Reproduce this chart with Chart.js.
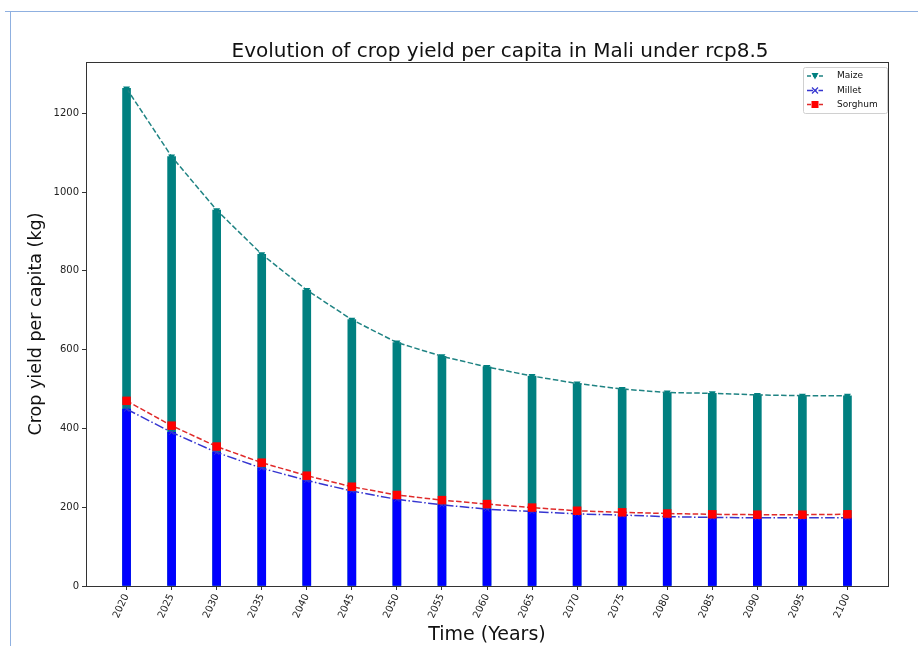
<!DOCTYPE html>
<html><head><meta charset="utf-8">
<script src="https://cdn.jsdelivr.net/npm/chart.js@4.4.1/dist/chart.umd.min.js"></script>
<style>
html,body{margin:0;padding:0;background:#fff;}
#wrap{position:relative;width:918px;height:646px;overflow:hidden;}
#frame{position:absolute;left:10px;top:11px;width:920px;height:700px;border-top:1px solid #8fb0e0;border-left:1px solid #8fb0e0;}
#frame2{position:absolute;left:5px;top:11px;width:6px;height:0;border-top:1px solid #8fb0e0;}
canvas{position:absolute;left:0;top:0;}
</style></head><body>
<div id="wrap"><div id="frame"></div><div id="frame2"></div><canvas id="c" width="918" height="646"></canvas></div>
<script>
const years = [2020,2025,2030,2035,2040,2045,2050,2055,2060,2065,2070,2075,2080,2085,2090,2095,2100];
const maize = [1263,1090,954,842,751,676,618,583,556,533,514,500,491,489,485,483,483];
const millet = [449,390,339,299,268,241,220,206,195,189,183,180,176,174,173,173,173];
const sorghum = [470,407,354,313,280,252,231,218,208,199,191,187,184,182,181,181,182];
const yTicks = [0,200,400,600,800,1000,1200];
const seriesNames = ['Maize','Millet','Sorghum'];
const titleText = 'Evolution of crop yield per capita in Mali under rcp8.5';

const FONT = 'DejaVu Sans';
const C_TEAL = '#008080', C_BLUE = '#0000ff';
const L_TEAL = '#1f8383', L_BLUE = '#3535d0', L_RED = '#e02a2a';

const pts = arr => arr.map((v,i)=>({x:years[i], y:v}));

const extras = {
  id:'extras',
  afterDraw(chart){
    const ctx = chart.ctx, a = chart.chartArea;
    ctx.save();
    ctx.strokeStyle = '#333'; ctx.lineWidth = 1;
    ctx.strokeRect(Math.round(a.left)+0.5, Math.round(a.top)+0.5, Math.round(a.right-a.left), Math.round(a.bottom-a.top));
    // title
    ctx.fillStyle = '#111';
    ctx.font = '20px "' + FONT + '"';
    ctx.textAlign = 'center'; ctx.textBaseline = 'alphabetic';
    ctx.fillText(titleText, 500, 57);
    // legend
    const bx = 803, by = 67, bw = 84, bh = 46;
    ctx.fillStyle = 'rgba(255,255,255,0.85)';
    ctx.strokeStyle = '#d0d0d0';
    ctx.beginPath();
    if (ctx.roundRect) ctx.roundRect(bx+0.5, by+0.5, bw, bh, 2); else ctx.rect(bx+0.5, by+0.5, bw, bh);
    ctx.fill(); ctx.stroke();
    const rows = [
      {y:76, c:L_TEAL, dash:[4,2], mk:'tri', mc:C_TEAL},
      {y:90.5, c:L_BLUE, dash:[6,2,1.5,2], mk:'x', mc:L_BLUE},
      {y:104.5, c:L_RED, dash:[4,2], mk:'sq', mc:'#ff0000'}
    ];
    rows.forEach((r,i)=>{
      ctx.strokeStyle = r.c; ctx.lineWidth = 1.5; ctx.setLineDash(r.dash);
      ctx.beginPath(); ctx.moveTo(807, r.y); ctx.lineTo(823, r.y); ctx.stroke();
      ctx.setLineDash([]);
      const mx = 815;
      if (r.mk==='tri'){
        ctx.fillStyle = r.mc; ctx.beginPath();
        ctx.moveTo(mx-3.5, r.y-3); ctx.lineTo(mx+3.5, r.y-3); ctx.lineTo(mx, r.y+3.5); ctx.closePath(); ctx.fill();
      } else if (r.mk==='x'){
        ctx.strokeStyle = r.mc; ctx.lineWidth = 1.2; ctx.beginPath();
        ctx.moveTo(mx-3, r.y-3); ctx.lineTo(mx+3, r.y+3); ctx.moveTo(mx+3, r.y-3); ctx.lineTo(mx-3, r.y+3); ctx.stroke();
      } else {
        ctx.fillStyle = r.mc; ctx.fillRect(mx-3.5, r.y-3.5, 7, 7);
      }
      ctx.fillStyle = '#111'; ctx.font = '9px "' + FONT + '"';
      ctx.textAlign = 'left'; ctx.textBaseline = 'middle';
      ctx.fillText(seriesNames[i], 837, r.y);
    });
    ctx.restore();
  }
};

new Chart(document.getElementById('c'), {
  data: {
    datasets: [
      {type:'line', label:'Sorghum', data:pts(sorghum), borderColor:L_RED, borderWidth:1.5, borderDash:[5.5,2.4],
       pointStyle:'rect', pointRadius:6, pointBackgroundColor:'#ff0000', pointBorderColor:'#ff0000', pointBorderWidth:0,
       fill:false, tension:0, order:0},
      {type:'line', label:'Millet', data:pts(millet), borderColor:L_BLUE, borderWidth:1.5, borderDash:[9.6,2.4,1.5,2.4],
       pointStyle:'crossRot', pointRadius:3.5, pointBorderColor:L_BLUE, pointBorderWidth:1,
       fill:false, tension:0, order:1},
      {type:'line', label:'Maize', data:pts(maize), borderColor:L_TEAL, borderWidth:1.5, borderDash:[5.5,2.4],
       pointStyle:'triangle', pointRotation:180, pointRadius:4, pointBackgroundColor:C_TEAL, pointBorderColor:C_TEAL, pointBorderWidth:0,
       fill:false, tension:0, order:2},
      {type:'bar', label:'Millet bars', data:pts(millet), backgroundColor:C_BLUE, borderWidth:0, barThickness:8, grouped:false, order:3},
      {type:'bar', label:'Maize bars', data:pts(maize), backgroundColor:C_TEAL, borderWidth:0, barThickness:8, grouped:false, order:4}
    ]
  },
  options: {
    responsive:false, animation:false, devicePixelRatio:1,
    layout:{padding:{left:10, right:30, top:62, bottom:0}},
    plugins:{legend:{display:false}, tooltip:{enabled:false}, title:{display:false}},
    scales:{
      x:{type:'linear', min:2015.5, max:2104.5, offset:false,
         afterBuildTicks:s=>{s.ticks = years.map(v=>({value:v}));},
         afterFit:s=>{s.height = 60;},
         grid:{offset:false, drawOnChartArea:false, drawTicks:true, tickLength:4, color:'#333'},
         border:{color:'#333'},
         ticks:{autoSkip:false, minRotation:65, maxRotation:65, padding:2, color:'#222',
                font:{family:FONT, size:10}, callback:v=>String(v)},
         title:{display:true, text:'Time (Years)', color:'#111', font:{family:FONT, size:19}, padding:{top:0, bottom:0}}
      },
      y:{type:'linear', min:0, max:1330,
         afterBuildTicks:s=>{s.ticks = yTicks.map(v=>({value:v}));},
         afterFit:s=>{s.width = 76;},
         grid:{drawOnChartArea:false, drawTicks:true, tickLength:4, color:'#333'},
         border:{color:'#333'},
         ticks:{padding:3, color:'#222', font:{family:FONT, size:10}, callback:v=>String(v)},
         title:{display:true, text:'Crop yield per capita (kg)', color:'#111', font:{family:FONT, size:17.5}, padding:{top:16, bottom:0}}
      }
    }
  },
  plugins:[extras]
});
</script>
</body></html>
